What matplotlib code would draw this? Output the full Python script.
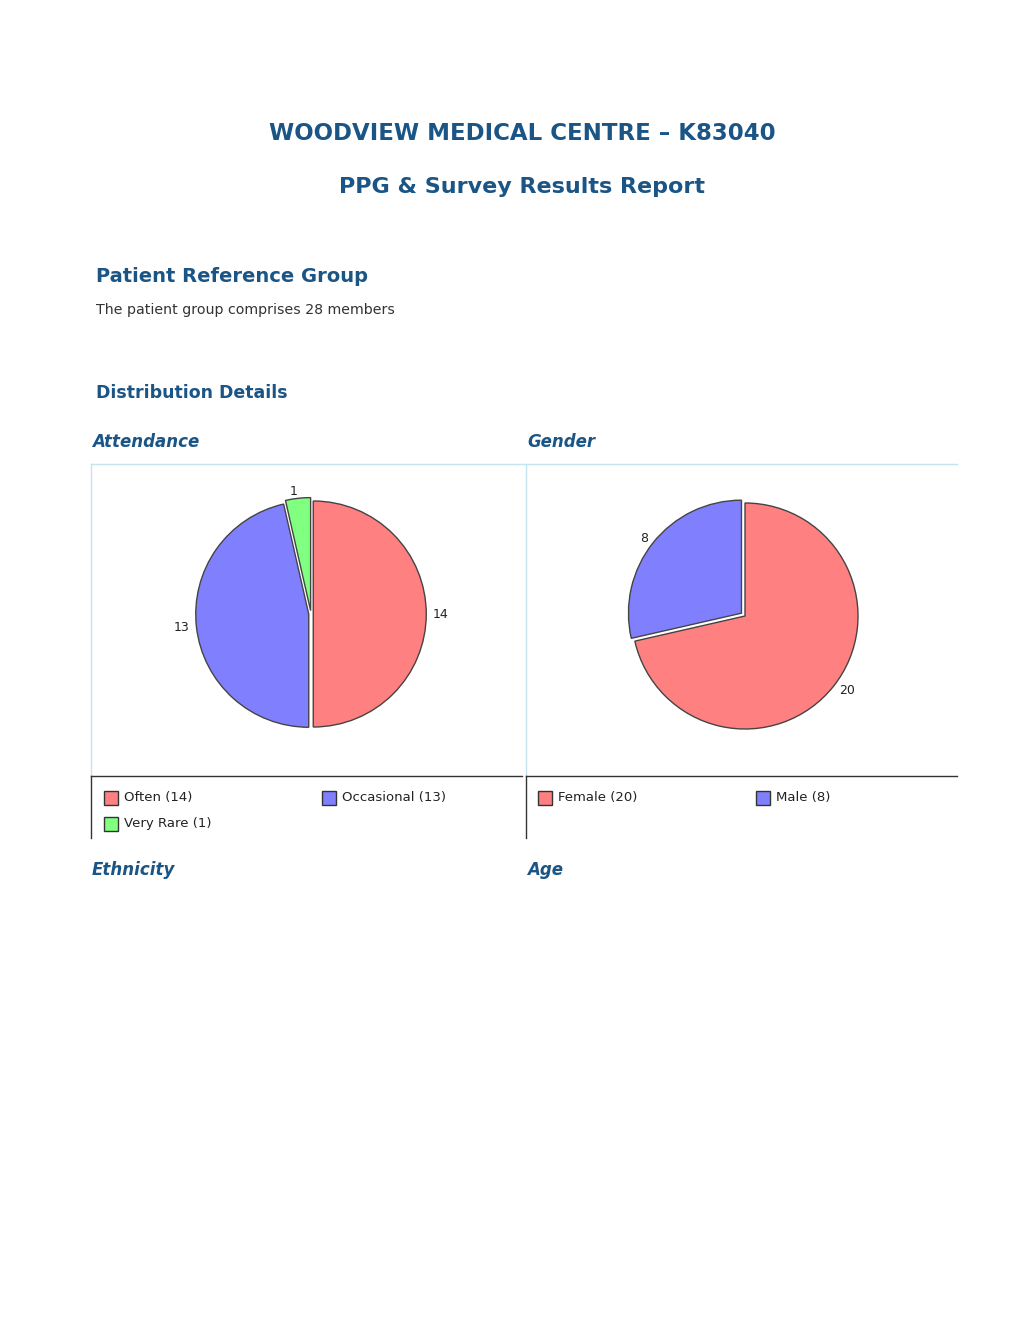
import matplotlib
matplotlib.use("Agg")
import matplotlib.pyplot as plt
from matplotlib.lines import Line2D
from matplotlib.patches import Rectangle

# data
attend_labels = ["Often", "Occasional", "Very Rare"]
attend_values = [14, 13, 1]
gender_labels = ["Female", "Male"]
gender_values = [20, 8]

RED, BLUE, GREEN = "#ff8080", "#8080ff", "#80ff80"
attend_colors = [RED, BLUE, GREEN]
gender_colors = [RED, BLUE]

TITLE_C = "#1a5585"
BORDER_LIGHT = "#c4e4ee"
BORDER_DARK = "#333333"

W, H = 1020, 1320
fig = plt.figure(figsize=(W / 100, H / 100), dpi=100)


def fx(x):
    return x / W


def fy(y):
    return 1 - y / H


def txt(x, y, s, **kw):
    fig.text(fx(x), fy(y), s, **kw)


# headings
txt(522, 134, "WOODVIEW MEDICAL CENTRE \u2013 K83040", ha="center", va="center",
    fontsize=16.5, fontweight="bold", color=TITLE_C)
txt(522, 187, "PPG & Survey Results Report", ha="center", va="center",
    fontsize=16, fontweight="bold", color=TITLE_C)
txt(96, 277, "Patient Reference Group", ha="left", va="center",
    fontsize=14, fontweight="bold", color=TITLE_C)
txt(96, 310, "The patient group comprises 28 members", ha="left", va="center",
    fontsize=10.2, color="#333333")
txt(96, 393, "Distribution Details", ha="left", va="center",
    fontsize=12.5, fontweight="bold", color=TITLE_C)
for x, y, s in [(92, 442, "Attendance"), (527, 442, "Gender"),
                (92, 870, "Ethnicity"), (527, 870, "Age")]:
    txt(x, y, s, ha="left", va="center", fontsize=12, fontweight="bold",
        fontstyle="italic", color=TITLE_C)


def line(x0, y0, x1, y1, color, lw=1.0):
    fig.add_artist(Line2D([fx(x0), fx(x1)], [fy(y0), fy(y1)], color=color,
                          lw=lw, transform=fig.transFigure))


# panel frames
for left, right, top_right in [(91, 522, 525), (526, 957, 957)]:
    line(left, 464, top_right, 464, BORDER_LIGHT)
    line(left, 464, left, 776, BORDER_LIGHT)
    line(left, 776, left, 838, BORDER_DARK)
    line(left, 776, right, 776, BORDER_DARK)


def pie_panel(cx, cy, r, values, colors, explode):
    k = 1.4
    half = r * k
    ax = fig.add_axes([fx(cx - half), fy(cy + half), 2 * half / W, 2 * half / H])
    ax.pie(values, colors=colors, labels=[str(v) for v in values],
           startangle=90, counterclock=False, explode=explode,
           labeldistance=1.06,
           wedgeprops=dict(edgecolor="#444444", linewidth=1.0),
           textprops=dict(fontsize=9, color="#222222"))
    ax.set_xlim(-k, k)
    ax.set_ylim(-k, k)
    ax.set_aspect("equal")
    ax.axis("off")


pie_panel(311, 614, 113, attend_values, attend_colors, [0.02, 0.02, 0.03])
pie_panel(745, 616, 113, gender_values, gender_colors, [0.0, 0.04])


def legend(x0, labels, values, colors):
    for i, (lab, v, c) in enumerate(zip(labels, values, colors)):
        x = x0 + (i % 2) * 218
        y = 798 + (i // 2) * 26
        fig.add_artist(Rectangle((fx(x), fy(y + 7)), 14 / W, 14 / H,
                                 facecolor=c, edgecolor="#333333", lw=1.0,
                                 transform=fig.transFigure))
        txt(x + 20, y, f"{lab} ({v})", ha="left", va="center",
            fontsize=9.5, color="#222222")


legend(104, attend_labels, attend_values, attend_colors)
legend(538, gender_labels, gender_values, gender_colors)

fig.savefig("out.png", dpi=100, facecolor="white")
